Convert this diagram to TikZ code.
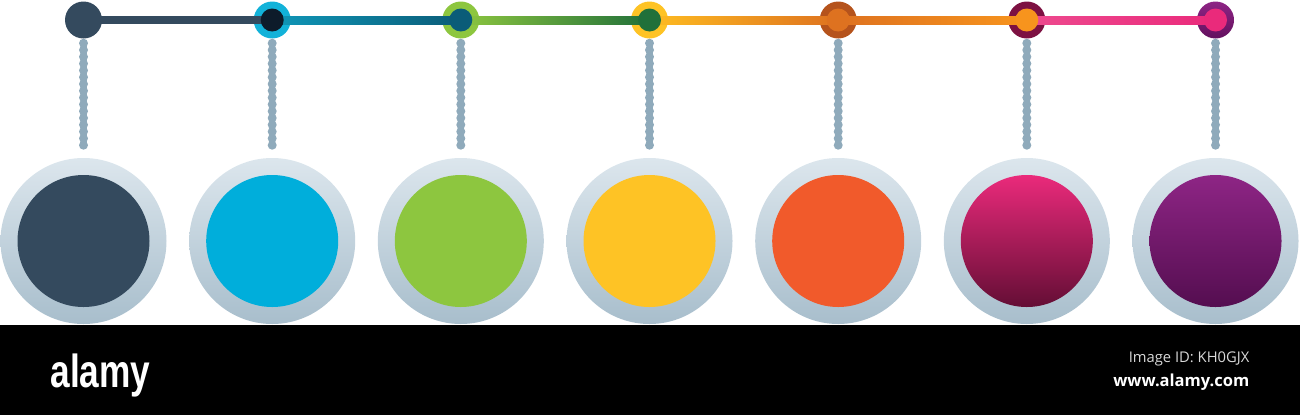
\documentclass[tikz,border=0pt]{standalone}
\usepackage{fontspec}
\setmainfont{Open Sans}
\newfontfamily\logofont{Liberation Sans}
\usetikzlibrary{calc}
\definecolor{slate}{HTML}{344A5E}
\definecolor{navy}{HTML}{0D1B2A}
\definecolor{cyan}{HTML}{12B2D9}
\definecolor{teal}{HTML}{0B5C78}
\definecolor{leaf}{HTML}{8DC63F}
\definecolor{forest}{HTML}{21703A}
\definecolor{sun}{HTML}{FEC325}
\definecolor{rust}{HTML}{B5531C}
\definecolor{amber}{HTML}{DE7220}
\definecolor{tangerine}{HTML}{F7941D}
\definecolor{wine}{HTML}{7D1142}
\definecolor{rose}{HTML}{EA2A7B}
\definecolor{plum}{HTML}{8E2585}
\definecolor{plumdark}{HTML}{63105E}
\definecolor{sky}{HTML}{00AEDB}
\definecolor{flame}{HTML}{F15A2B}
\definecolor{ringtop}{HTML}{DCE6ED}
\definecolor{ringbot}{HTML}{A8BECC}
\definecolor{chaincol}{HTML}{8FAABB}
\tikzset{
	dot/.style={circle,inner sep=0pt,minimum size=0.37cm},
	hole/.style={circle,inner sep=0pt,minimum size=0.23cm},
	ring/.style={circle,inner sep=0pt,minimum size=1.66cm,top color=ringtop,bottom color=ringbot},
	disc/.style={circle,inner sep=0pt,minimum size=1.32cm},
	cord/.style={draw=chaincol,line width=0.06cm,shorten <=0.04cm,shorten >=0.12cm},
	beads/.style={draw=chaincol,line width=0.09cm,dash pattern=on 0pt off 0.068cm,line cap=round,shorten <=0.04cm,shorten >=0.12cm}
}
\begin{document}
\begin{tikzpicture}
		\useasboundingbox (0,0) rectangle (13,4.15);
		%Top line, outer dots
		\node[dot,fill=slate] (t1) at (0.835,3.95) {};
		\node[dot,fill=cyan] (t2) at (2.722,3.95) {};
		\node[dot,fill=leaf] (t3) at (4.608,3.95) {};
		\node[dot,fill=sun] (t4) at (6.495,3.95) {};
		\node[dot,fill=rust] (t5) at (8.382,3.95) {};
		\node[dot,fill=wine] (t6) at (10.268,3.95) {};
		\node[dot,top color=plum,bottom color=plumdark] (t7) at (12.155,3.95) {};
		%Top line, segments
		\fill[slate] ($(t1.center)+(0,-0.04)$) rectangle ($(t2.center)+(0,0.04)$);
		\shade[left color=cyan!85!black,right color=teal] ($(t2.center)+(0,-0.04)$) rectangle ($(t3.center)+(0,0.04)$);
		\shade[left color=leaf,right color=forest] ($(t3.center)+(0,-0.04)$) rectangle ($(t4.center)+(0,0.04)$);
		\shade[left color=sun!90!orange,right color=amber] ($(t4.center)+(0,-0.04)$) rectangle ($(t5.center)+(0,0.04)$);
		\shade[left color=amber,right color=tangerine] ($(t5.center)+(0,-0.04)$) rectangle ($(t6.center)+(0,0.04)$);
		\shade[left color=rose!85!white,right color=rose] ($(t6.center)+(0,-0.04)$) rectangle ($(t7.center)+(0,0.04)$);
		%Top line, inner holes
		\node[hole,fill=navy] (h2) at (t2) {};
		\node[hole,fill=teal] (h3) at (t3) {};
		\node[hole,fill=forest] (h4) at (t4) {};
		\node[hole,fill=amber] (h5) at (t5) {};
		\node[hole,fill=tangerine] (h6) at (t6) {};
		\node[hole,fill=rose] (h7) at (t7) {};
		%Big circles
		\node[ring] (c1) at (0.835,1.74) {};
		\node[ring] (c2) at (2.722,1.74) {};
		\node[ring] (c3) at (4.608,1.74) {};
		\node[ring] (c4) at (6.495,1.74) {};
		\node[ring] (c5) at (8.382,1.74) {};
		\node[ring] (c6) at (10.268,1.74) {};
		\node[ring] (c7) at (12.155,1.74) {};
		\node[disc,fill=slate] (d1) at (c1) {};
		\node[disc,fill=sky] (d2) at (c2) {};
		\node[disc,fill=leaf] (d3) at (c3) {};
		\node[disc,fill=sun] (d4) at (c4) {};
		\node[disc,fill=flame] (d5) at (c5) {};
		\node[disc,top color=rose,bottom color=wine!80!black] (d6) at (c6) {};
		\node[disc,top color=plum,bottom color=plumdark!85!black] (d7) at (c7) {};
		%Chains
		\draw[cord] (t1.south) -- (c1.north);
		\draw[beads] (t1.south) -- (c1.north);
		\draw[cord] (t2.south) -- (c2.north);
		\draw[beads] (t2.south) -- (c2.north);
		\draw[cord] (t3.south) -- (c3.north);
		\draw[beads] (t3.south) -- (c3.north);
		\draw[cord] (t4.south) -- (c4.north);
		\draw[beads] (t4.south) -- (c4.north);
		\draw[cord] (t5.south) -- (c5.north);
		\draw[beads] (t5.south) -- (c5.north);
		\draw[cord] (t6.south) -- (c6.north);
		\draw[beads] (t6.south) -- (c6.north);
		\draw[cord] (t7.south) -- (c7.north);
		\draw[beads] (t7.south) -- (c7.north);
		%Bottom band
		\fill[black] (0,0) rectangle (13,0.9);
		\node[anchor=base west,inner sep=0pt,text=white,xscale=0.76] (logo) at (0.50,0.28) {\logofont\bfseries\fontsize{13.2}{14}\selectfont alamy};
		\node[anchor=base east,inner sep=0pt,text=black!15] (imgid) at (12.50,0.53) {\fontsize{4.2}{5}\selectfont Image ID: KH0GJX};
		\node[anchor=base east,inner sep=0pt,text=white] (site) at (12.50,0.29) {\bfseries\fontsize{4.7}{5}\selectfont www.alamy.com};
		
		\end{tikzpicture}
\end{document}
